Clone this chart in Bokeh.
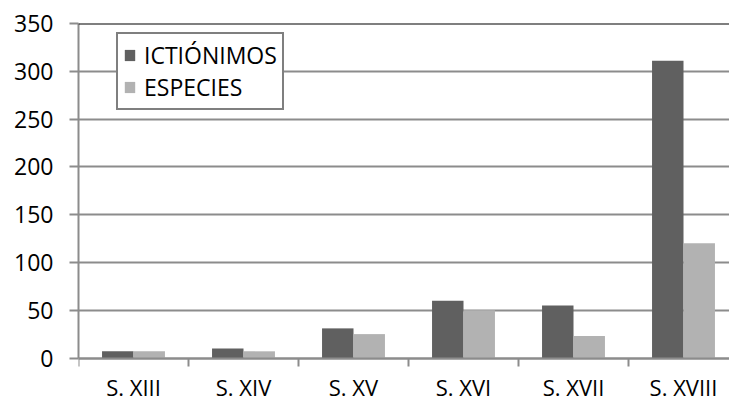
from bokeh.plotting import figure
from bokeh.models import (ColumnDataSource, Range1d, FixedTicker, Span,
                          Legend, LegendItem)
from bokeh.embed import file_html
from bokeh.resources import INLINE

# Centuries and counts per century
siglos = ["S. XIII", "S. XIV", "S. XV", "S. XVI", "S. XVII", "S. XVIII"]
ictionimos = [7, 10, 31, 60, 55, 311]
especies = [7, 7, 25, 50, 23, 120]
y_ticks = [0, 50, 100, 150, 200, 250, 300, 350]

FONT = "Open Sans"
FSIZE = "23px"
DARK = "#606060"
LIGHT = "#b2b2b2"
GRID = "#8c8c8c"

bar_w = 0.286
centers = [i + 0.5 for i in range(len(siglos))]

src = ColumnDataSource(dict(
    x_ict=[c - bar_w / 2 for c in centers],
    x_esp=[c + bar_w / 2 for c in centers],
    ict=ictionimos,
    esp=especies,
))

# the frame runs to the bottom edge; the x axis sits at y = 0 and its
# category names are drawn in the space below zero
p = figure(width=729, height=403, output_backend="svg", toolbar_location=None,
           x_range=Range1d(0, 651 / 110), y_range=Range1d(-47.6, 350),
           min_border_left=78, min_border_right=0, min_border_top=23,
           min_border_bottom=0, outline_line_color=None)
p.background_fill_color = "white"
p.border_fill_color = "white"

r_ict = p.vbar(x="x_ict", top="ict", width=bar_w, source=src,
               fill_color=DARK, line_color=None)
r_esp = p.vbar(x="x_esp", top="esp", width=bar_w, source=src,
               fill_color=LIGHT, line_color=None)

# top border of the plot area
p.add_layout(Span(location=350, dimension="width", line_color="black",
                  line_width=2))

# y axis
p.yaxis.ticker = FixedTicker(ticks=y_ticks)
p.yaxis.bounds = (0, 350)
p.yaxis.axis_line_color = GRID
p.yaxis.axis_line_width = 2
p.yaxis.major_tick_line_color = GRID
p.yaxis.major_tick_line_width = 2
p.yaxis.major_tick_out = 9
p.yaxis.major_tick_in = 0
p.yaxis.minor_tick_line_color = None
p.yaxis.major_label_standoff = 16
p.yaxis.major_label_text_font = FONT
p.yaxis.major_label_text_font_size = FSIZE
p.yaxis.major_label_text_color = "black"

# x axis: labels at category centres, tick marks at category boundaries
p.xaxis.fixed_location = 0
p.xaxis.ticker = FixedTicker(ticks=centers,
                             minor_ticks=list(range(len(siglos) + 1)))
p.xaxis.major_label_overrides = {c: s for c, s in zip(centers, siglos)}
p.xaxis.axis_line_color = GRID
p.xaxis.axis_line_width = 2
p.xaxis.major_tick_line_color = None
p.xaxis.major_tick_out = 0
p.xaxis.major_tick_in = 0
p.xaxis.minor_tick_line_color = GRID
p.xaxis.minor_tick_line_width = 2
p.xaxis.minor_tick_out = 8
p.xaxis.minor_tick_in = 0
p.xaxis.major_label_standoff = 6
p.xaxis.major_label_text_font = FONT
p.xaxis.major_label_text_font_size = "22px"
p.xaxis.major_label_text_color = "black"

p.xgrid.grid_line_color = None
p.ygrid.ticker = FixedTicker(ticks=y_ticks)
p.ygrid.grid_line_color = GRID
p.ygrid.grid_line_width = 2

legend = Legend(items=[LegendItem(label="ICTIÓNIMOS", renderers=[r_ict]),
                       LegendItem(label="ESPECIES", renderers=[r_esp])],
                location=(38, 293), margin=0, padding=5, spacing=0,
                glyph_width=13, glyph_height=14, label_standoff=8,
                label_text_font=FONT, label_text_font_size=FSIZE,
                label_text_color="black", label_height=20,
                border_line_color="black", border_line_width=2,
                background_fill_color="white", background_fill_alpha=1)
p.add_layout(legend, "center")

open("out.html", "w").write(file_html(p, INLINE))
